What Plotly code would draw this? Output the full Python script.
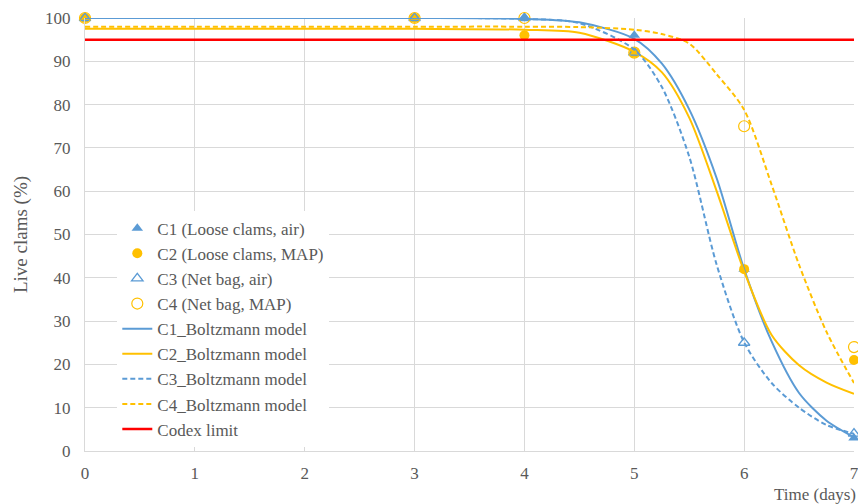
import plotly.graph_objects as go

# Observed data
days = [0, 3, 4, 5, 6, 7]
c1_obs = [100, 100, 100, 96, 42, 3]
c2_obs = [100, 100, 96, 92, 42, 21]
c3_obs = [100, 100, 100, 92, 25, 4]
c4_obs = [100, 100, 100, 92, 75, 24]

# Boltzmann model curves
model_x = [0, 1, 2, 3, 4, 4.5, 5, 5.25, 5.5, 5.75, 6, 6.25, 6.5, 6.75, 7]
c1_model = [100, 100, 100, 100, 99.8, 99.0, 95.2, 89.5, 78.9, 63.0, 42.0, 25.3, 13.4, 7.0, 3.2]
c2_model = [97.5, 97.5, 97.5, 97.5, 97.3, 96.6, 92.2, 87.5, 77.0, 60.0, 41.5, 26.8, 19.8, 15.8, 13.2]
c3_model = [100, 100, 100, 100, 99.8, 98.8, 92.7, 84.1, 68.0, 43.0, 25.1, 15.7, 10.0, 6.0, 4.0]
c4_model = [98, 98, 98, 98, 98.0, 97.9, 97.3, 96.3, 94.1, 87.0, 78.8, 61.5, 43.0, 27.5, 15.7]

codex_x = [0, 7]
codex_y = [95, 95]

x_ticks = [0, 1, 2, 3, 4, 5, 6, 7]
y_ticks = [0, 10, 20, 30, 40, 50, 60, 70, 80, 90, 100]

BLUE = "#5b9bd5"
YELLOW = "#ffc000"
RED = "#ff0000"
FONT = "Times New Roman, Liberation Serif, DejaVu Serif, serif"
GREY = "#595959"

fig = go.Figure()

fig.add_trace(go.Scatter(x=days, y=c1_obs, mode="markers", name="C1 (Loose clams, air)",
                         marker=dict(symbol="triangle-up", size=10, color=BLUE)))
fig.add_trace(go.Scatter(x=days, y=c2_obs, mode="markers", name="C2 (Loose clams, MAP)",
                         marker=dict(symbol="circle", size=10, color=YELLOW)))
fig.add_trace(go.Scatter(x=days, y=c3_obs, mode="markers", name="C3 (Net bag, air)",
                         marker=dict(symbol="triangle-up-open", size=10, color=BLUE, line=dict(width=1.3))))
fig.add_trace(go.Scatter(x=days, y=c4_obs, mode="markers", name="C4 (Net bag, MAP)",
                         marker=dict(symbol="circle-open", size=11, color=YELLOW, line=dict(width=1.2))))

fig.add_trace(go.Scatter(x=model_x, y=c1_model, mode="lines", name="C1_Boltzmann model",
                         line=dict(color=BLUE, width=2, shape="spline", smoothing=0.8)))
fig.add_trace(go.Scatter(x=model_x, y=c2_model, mode="lines", name="C2_Boltzmann model",
                         line=dict(color=YELLOW, width=2, shape="spline", smoothing=0.8)))
fig.add_trace(go.Scatter(x=model_x, y=c3_model, mode="lines", name="C3_Boltzmann model",
                         line=dict(color=BLUE, width=2, dash="5px,3px", shape="spline", smoothing=0.8)))
fig.add_trace(go.Scatter(x=model_x, y=c4_model, mode="lines", name="C4_Boltzmann model",
                         line=dict(color=YELLOW, width=2, dash="5px,3px", shape="spline", smoothing=0.8)))
fig.add_trace(go.Scatter(x=codex_x, y=codex_y, mode="lines", name="Codex limit",
                         line=dict(color=RED, width=2.5)))

fig.update_traces(cliponaxis=False)

fig.update_layout(
    width=858, height=504,
    margin=dict(l=85, r=4, t=18, b=53),
    paper_bgcolor="white", plot_bgcolor="white",
    font=dict(family=FONT, size=17, color=GREY),
    showlegend=True,
    legend=dict(x=0.042, y=0.555, xanchor="left", yanchor="top",
                bgcolor="white", font=dict(family=FONT, size=17, color=GREY),
                tracegroupgap=0, itemwidth=30),
    xaxis=dict(range=[0, 7], tickvals=x_ticks, showgrid=True, gridcolor="#d9d9d9", gridwidth=1,
               zeroline=False, showline=True, linecolor="#d9d9d9", linewidth=1,
               ticks="", ticklabelstandoff=7, ticklabeloverflow="allow", automargin=False,
               tickfont=dict(family=FONT, size=17, color=GREY)),
    yaxis=dict(range=[0, 100], tickvals=y_ticks, showgrid=True, gridcolor="#d9d9d9", gridwidth=1,
               zeroline=False, showline=True, linecolor="#d9d9d9", linewidth=1,
               ticks="", ticklabelstandoff=10, automargin=False,
               tickfont=dict(family=FONT, size=17, color=GREY),
               title=dict(text="Live clams (%)", font=dict(family=FONT, size=19, color=GREY), standoff=12)),
    annotations=[dict(text="Time (days)", xref="paper", yref="paper", x=1.005, y=-0.075,
                      xanchor="right", yanchor="top", showarrow=False,
                      font=dict(family=FONT, size=17, color=GREY))],
)

fig.write_html("out.html")
